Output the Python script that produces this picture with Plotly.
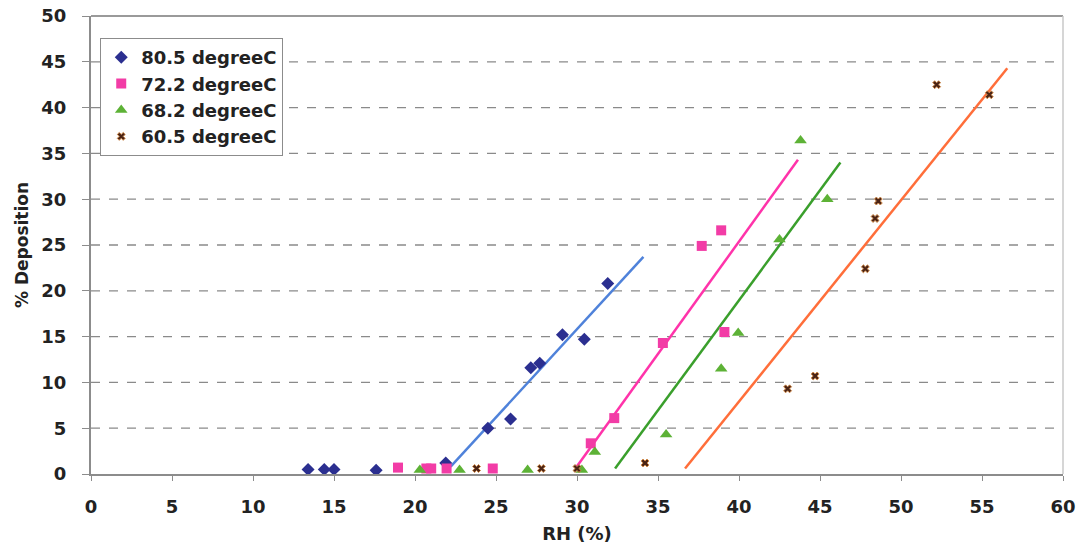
import plotly.graph_objects as go

# ---- data ----
series_names = ["80.5 degreeC", "72.2 degreeC", "68.2 degreeC", "60.5 degreeC"]

rh_805 = [13.4, 14.4, 15.0, 17.6, 21.9, 24.5, 25.9, 27.15, 27.7, 29.1, 30.45, 31.9]
dep_805 = [0.5, 0.5, 0.5, 0.4, 1.2, 5.0, 6.0, 11.6, 12.1, 15.2, 14.7, 20.8]

rh_722 = [18.95, 20.7, 21.0, 21.95, 24.8, 30.85, 32.3, 35.3, 37.7, 38.9, 39.1]
dep_722 = [0.7, 0.6, 0.6, 0.6, 0.6, 3.35, 6.1, 14.3, 24.9, 26.6, 15.5]

rh_682 = [20.3, 22.75, 26.95, 30.3, 31.1, 35.5, 38.9, 39.95, 42.5, 45.45, 43.8]
dep_682 = [0.45, 0.45, 0.45, 0.45, 2.4, 4.3, 11.5, 15.4, 25.6, 30.0, 36.4]

rh_605 = [23.8, 27.8, 30.0, 34.2, 43.0, 44.7, 47.8, 48.4, 48.6, 52.2, 55.45]
dep_605 = [0.6, 0.6, 0.6, 1.2, 9.3, 10.7, 22.4, 27.9, 29.8, 42.5, 41.4]

# trend lines (start / end points)
trend_x0 = [22.2, 29.9, 32.35, 36.67]
trend_y0 = [0.8, 0.6, 0.6, 0.6]
trend_x1 = [34.1, 43.64, 46.26, 56.56]
trend_y1 = [23.7, 34.3, 34.0, 44.3]

x_ticks = [0, 5, 10, 15, 20, 25, 30, 35, 40, 45, 50, 55, 60]
y_ticks = [0, 5, 10, 15, 20, 25, 30, 35, 40, 45, 50]

# ---- styles ----
marker_styles = [
    dict(symbol="diamond", size=10, color="#2B2F90"),
    dict(symbol="square", size=10, color="#F23CA6"),
    dict(symbol="triangle-up", size=11, color="#5DB236"),
    dict(symbol="x", size=7, color="#4A2416", line=dict(width=1, color="#D08A4A")),
]
line_colors = ["#4F82DA", "#FF33AA", "#3A9F2C", "#FF6E3A"]

xs = [rh_805, rh_722, rh_682, rh_605]
ys = [dep_805, dep_722, dep_682, dep_605]

fig = go.Figure()

# trend lines first (behind markers)
for i in range(4):
    fig.add_trace(go.Scatter(
        x=[trend_x0[i], trend_x1[i]], y=[trend_y0[i], trend_y1[i]],
        mode="lines", line=dict(color=line_colors[i], width=2.5),
        showlegend=False, hoverinfo="skip"))

for i in range(4):
    fig.add_trace(go.Scatter(
        x=xs[i], y=ys[i], mode="markers", name=series_names[i],
        marker=marker_styles[i]))

# horizontal dashed grid lines
for v in y_ticks[1:-1]:
    fig.add_shape(type="line", xref="paper", yref="y", x0=0, x1=1, y0=v, y1=v,
                  line=dict(color="#8A8A8A", width=1.3, dash="dash"), layer="below")

font_main = "DejaVu Sans, Liberation Sans, Arial, sans-serif"
txt = "#222222"

fig.update_layout(
    width=1080, height=553,
    margin=dict(l=91, r=17, t=16, b=79),
    paper_bgcolor="white", plot_bgcolor="white",
    font=dict(family=font_main, size=18, color=txt),
    showlegend=True,
    legend=dict(
        x=0.0095, y=0.952, xanchor="left", yanchor="top",
        bgcolor="white", bordercolor="#8C8C8C", borderwidth=1,
        font=dict(family=font_main, size=18, color=txt, weight="bold"),
        itemsizing="trace", tracegroupgap=0, itemwidth=30,
    ),
    xaxis=dict(
        range=[0, 60], tickvals=x_ticks, ticktext=[str(t) for t in x_ticks],
        showgrid=False, zeroline=False, automargin=False,
        showline=True, linecolor="#8C8C8C", linewidth=2, mirror=False,
        ticks="outside", ticklen=5, tickcolor="#8C8C8C", tickwidth=1,
        ticklabelstandoff=10,
        tickfont=dict(family=font_main, size=18, color=txt, weight="bold"),
        title=dict(text="RH (%)", standoff=12,
                   font=dict(family=font_main, size=18, color=txt, weight="bold")),
    ),
    yaxis=dict(
        range=[0, 50], tickvals=y_ticks, ticktext=[str(t) for t in y_ticks],
        showgrid=False, zeroline=False, automargin=False,
        showline=True, linecolor="#8C8C8C", linewidth=2,
        ticks="outside", ticklen=7, tickcolor="#8C8C8C", tickwidth=1,
        ticklabelstandoff=12,
        tickfont=dict(family=font_main, size=18, color=txt, weight="bold"),
        title=dict(text="% Deposition", standoff=8,
                   font=dict(family=font_main, size=17, color=txt, weight="bold")),
    ),
)

# top and right plot border
fig.add_shape(type="line", xref="paper", yref="paper", x0=0, x1=1, y0=1, y1=1,
              line=dict(color="#9A9A9A", width=2))
fig.add_shape(type="line", xref="paper", yref="paper", x0=1, x1=1, y0=0, y1=1,
              line=dict(color="#C8C8C8", width=1.5))

fig.write_html("out.html")
